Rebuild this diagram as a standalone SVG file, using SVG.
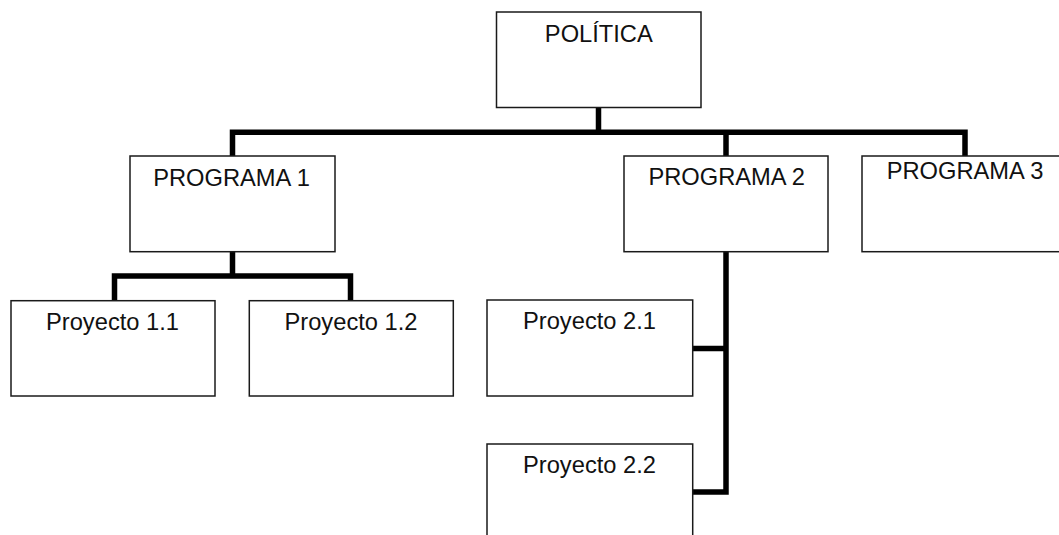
<svg xmlns="http://www.w3.org/2000/svg" width="1059" height="535" viewBox="0 0 1059 535">
  <style>
    .box { fill: #ffffff; stroke: #1a1a1a; stroke-width: 1.5; }
    .label { font-family: "Liberation Sans", Arial, sans-serif; font-size: 23.7px; fill: #111111; text-anchor: middle; }
    .link { fill: none; stroke: #000000; stroke-width: 5.5; stroke-linecap: butt; stroke-linejoin: miter; }
  </style>
  <rect width="1059" height="535" fill="#ffffff"/>

  <!-- connectors -->
  <g id="connectors">
    <path class="link" d="M598.5,108 V132.3"/>
    <path class="link" d="M232.5,156 V132.3 H965 V156"/>
    <path class="link" d="M726,132.3 V156"/>
    <path class="link" d="M232.5,252 V276 M114.5,301 V276 H350.5 V301"/>
    <path class="link" d="M726,252 V492 H693 M726,348.5 H693"/>
  </g>

  <g id="politica">
    <rect class="box" x="496.5" y="12" width="204.5" height="95.5"/>
    <text class="label" x="598.8" y="42.3">POLÍTICA</text>
  </g>

  <g id="programa1">
    <rect class="box" x="130" y="156" width="205" height="95.7"/>
    <text class="label" x="231.5" y="185.7">PROGRAMA 1</text>
  </g>

  <g id="programa2">
    <rect class="box" x="624" y="156" width="204" height="95.7"/>
    <text class="label" x="726.7" y="185">PROGRAMA 2</text>
  </g>

  <g id="programa3">
    <rect class="box" x="862" y="156" width="220" height="95.7"/>
    <text class="label" x="965" y="179.3">PROGRAMA 3</text>
  </g>

  <g id="proyecto11">
    <rect class="box" x="11" y="300.7" width="204" height="95.3"/>
    <text class="label" x="112.5" y="330">Proyecto 1.1</text>
  </g>

  <g id="proyecto12">
    <rect class="box" x="249.3" y="300.7" width="204" height="95.3"/>
    <text class="label" x="351" y="330">Proyecto 1.2</text>
  </g>

  <g id="proyecto21">
    <rect class="box" x="487" y="300" width="205.7" height="96"/>
    <text class="label" x="589.5" y="329.3">Proyecto 2.1</text>
  </g>

  <g id="proyecto22">
    <rect class="box" x="487" y="444" width="205.7" height="110"/>
    <text class="label" x="589.5" y="473.3">Proyecto 2.2</text>
  </g>
</svg>
